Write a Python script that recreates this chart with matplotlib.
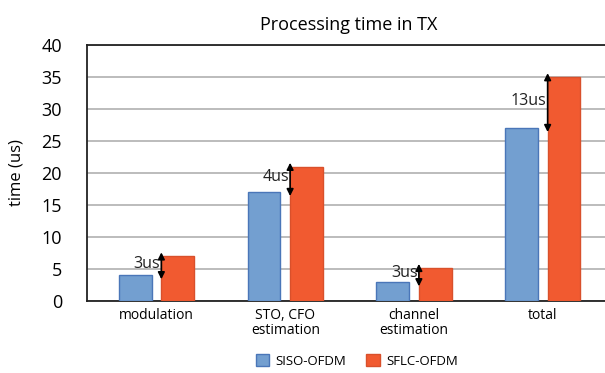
import matplotlib.pyplot as plt
import numpy as np

plt.rcParams['font.family'] = ['Open Sans', 'DejaVu Sans']

categories = ['modulation', 'STO, CFO\nestimation', 'channel\nestimation', 'total']
siso = [4, 17, 2.9, 27]
sflc = [7, 21, 5.2, 35]
gap_labels = ['3us', '4us', '3us', '13us']
yticks = [0, 5, 10, 15, 20, 25, 30, 35, 40]

blue = '#739fd0'
blue_edge = '#4a76b8'
red = '#f15a30'
red_edge = '#d9502b'

fig = plt.figure(figsize=(6.05, 3.73), dpi=100)
ax = fig.add_axes([87 / 605, 72 / 373, 1 - 87 / 605 + 0.01, 256 / 373])

x = np.arange(len(categories))
w = 0.255
ax.bar(x - 0.165, siso, w, color=blue, edgecolor=blue_edge, linewidth=1, label='SISO-OFDM', zorder=3)
ax.bar(x + 0.165, sflc, w, color=red, edgecolor=red_edge, linewidth=1, label='SFLC-OFDM', zorder=3)

# double arrows showing the extra time of SFLC over SISO
for i in range(len(categories)):
    ax_x = x[i] + 0.165 - w / 2
    ax.annotate('', xy=(ax_x, sflc[i] + 0.6), xytext=(ax_x, siso[i] - 0.6),
                arrowprops=dict(arrowstyle='<|-|>', color='black', lw=1.2,
                                mutation_scale=10, shrinkA=0, shrinkB=0), zorder=5)
    ax.text(ax_x - 0.01, (siso[i] + sflc[i]) / 2 + 0.3, gap_labels[i], ha='right', va='center',
            fontsize=11.5, color='#222222', zorder=6)

ax.set_ylim(0, 40)
ax.set_xlim(-0.54, 3.53)
ax.set_yticks(yticks)
ax.set_xticks(x)
ax.set_xticklabels(categories, fontsize=10, linespacing=1.0)
ax.tick_params(axis='y', labelsize=13, length=0, pad=18)
ax.tick_params(axis='x', length=0, pad=5)
ax.yaxis.grid(True, color='#b0b0b0', linewidth=1.2, zorder=0)
for s in ['left', 'top', 'bottom']:
    ax.spines[s].set_color('#222222')
    ax.spines[s].set_linewidth(1.3)
ax.spines['right'].set_visible(False)

ax.set_ylabel('time (us)', fontsize=12, labelpad=12)
ax.set_title('Processing time in TX', fontsize=13, pad=11)

fig.legend(loc='center', bbox_to_anchor=(357 / 605, 1 - 361 / 373), ncol=2, frameon=False,
           fontsize=9.5, handlelength=1.0, handleheight=1.0, handletextpad=0.5, columnspacing=1.5)

fig.savefig('out.png', dpi=100)
